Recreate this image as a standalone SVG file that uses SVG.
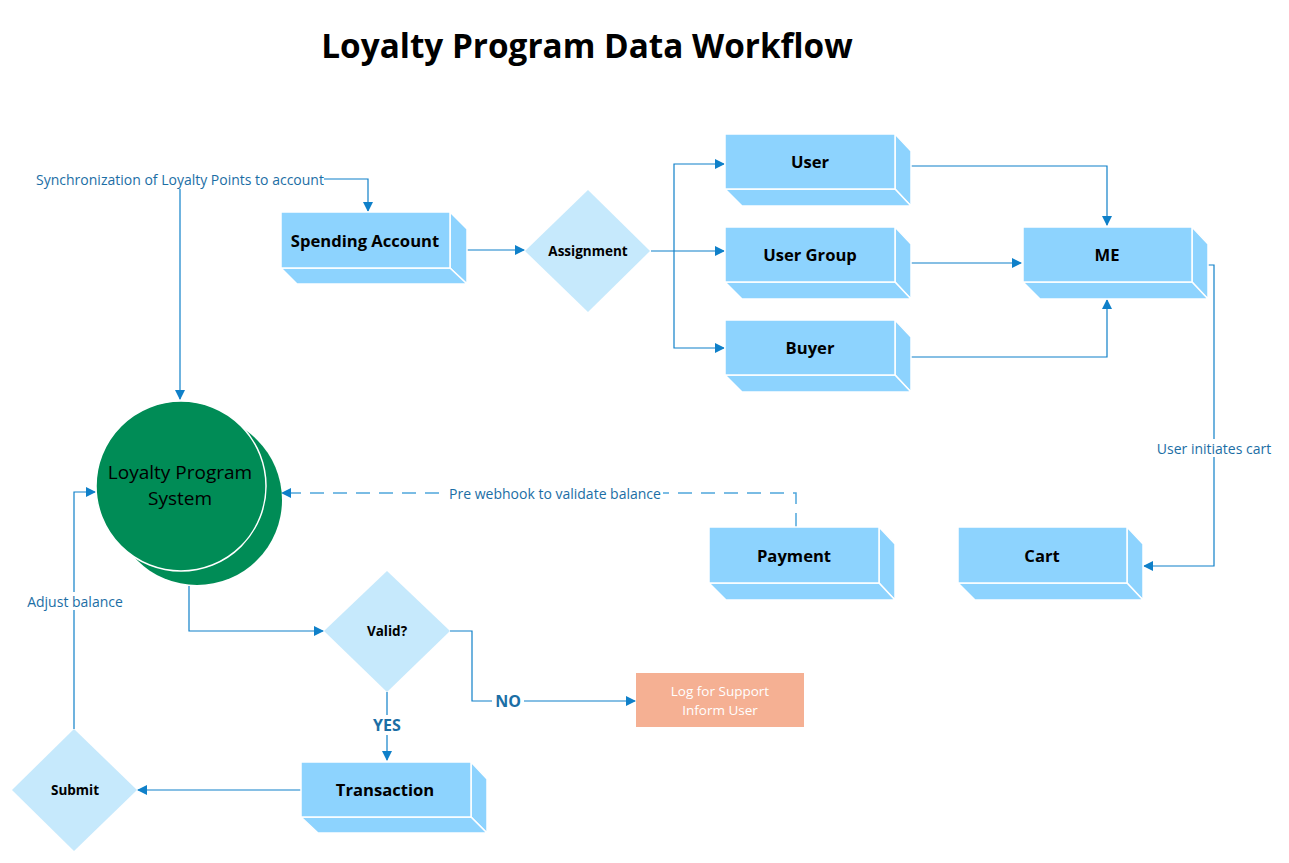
<svg xmlns="http://www.w3.org/2000/svg" width="1289" height="863" viewBox="0 0 1289 863">
<defs>
<marker id="arr" viewBox="0 0 10 10" refX="9" refY="5" markerWidth="10" markerHeight="10" markerUnits="userSpaceOnUse" orient="auto">
<path d="M0,0 L10,5 L0,10 z" fill="#0F80C9"/>
</marker>
<style>
.face{fill:#8DD3FE;stroke:#FFFFFF;stroke-width:1.5}
.dia{fill:#C6E9FC}
.conn{fill:none;stroke:#0F80C9;stroke-width:1.2}
.dash{fill:none;stroke:#4FA6DC;stroke-width:1.5;stroke-dasharray:14,9}
.bl{font-family:"Open Sans","Liberation Sans",sans-serif;font-weight:bold;font-size:16.6px;fill:#000;text-anchor:middle;dominant-baseline:central}
.dl{font-family:"Open Sans","Liberation Sans",sans-serif;font-weight:bold;font-size:13.5px;fill:#000;text-anchor:middle;dominant-baseline:central}
.cl{font-family:"Open Sans","Liberation Sans",sans-serif;font-size:14px;fill:#1B6EA5;text-anchor:middle;dominant-baseline:central}
.yn{font-family:"Open Sans","Liberation Sans",sans-serif;font-weight:bold;font-size:16px;fill:#1B6EA5;text-anchor:middle;dominant-baseline:central}
</style>
</defs>
<rect width="1289" height="863" fill="#FFFFFF"/>
<text x="587" y="45" font-family="Open Sans, Liberation Sans, sans-serif" font-weight="bold" font-size="33.3" text-anchor="middle" dominant-baseline="central" fill="#000">Loyalty Program Data Workflow</text>

<g id="connectors">
<path class="conn" d="M323,179 H368 V211" marker-end="url(#arr)"/>
<path class="conn" d="M180,189 V399" marker-end="url(#arr)"/>
<path class="conn" d="M467,250 H524" marker-end="url(#arr)"/>
<path class="conn" d="M651,251 H724" marker-end="url(#arr)"/>
<path class="conn" d="M674,251 V164 H724" marker-end="url(#arr)"/>
<path class="conn" d="M674,251 V348 H724" marker-end="url(#arr)"/>
<path class="conn" d="M911,166 H1107 V225" marker-end="url(#arr)"/>
<path class="conn" d="M911,263 H1021" marker-end="url(#arr)"/>
<path class="conn" d="M911,357 H1107 V300" marker-end="url(#arr)"/>
<path class="conn" d="M1208,265 H1214 V566 H1144" marker-end="url(#arr)"/>
<path class="dash" d="M796,527 V493 H282" marker-end="url(#arr)"/>
<path class="conn" d="M189,586 V631 H323" marker-end="url(#arr)"/>
<path class="conn" d="M450,631 H472 V701 H635" marker-end="url(#arr)"/>
<path class="conn" d="M387,692 V760" marker-end="url(#arr)"/>
<path class="conn" d="M301,790 H138" marker-end="url(#arr)"/>
<path class="conn" d="M74,729 V492 H95" marker-end="url(#arr)"/>
<rect x="33" y="170" width="291" height="18" fill="#FFFFFF"/>
<text class="cl" x="180" y="179">Synchronization of Loyalty Points to account</text>
<rect x="1154" y="439" width="120" height="18" fill="#FFFFFF"/>
<text class="cl" x="1214" y="448">User initiates cart</text>
<rect x="447" y="484" width="216" height="18" fill="#FFFFFF"/>
<text class="cl" x="555" y="493">Pre webhook to validate balance</text>
<rect x="24" y="592" width="102" height="18" fill="#FFFFFF"/>
<text class="cl" x="75" y="601">Adjust balance</text>
<rect x="492" y="691" width="32" height="20" fill="#FFFFFF"/>
<text class="yn" x="508" y="701">NO</text>
<rect x="370" y="715" width="34" height="20" fill="#FFFFFF"/>
<text class="yn" x="387" y="725">YES</text>
</g>

<g id="spending-account">
<polygon class="face" points="450,212 467,229 467,284 450,268"/>
<polygon class="face" points="281,268 297,284 467,284 450,268"/>
<rect class="face" x="281" y="212" width="169" height="56"/>
<text class="bl" x="365" y="240">Spending Account</text>
</g>
<g id="user">
<polygon class="face" points="895,134 911,151 911,206 895,189"/>
<polygon class="face" points="725,189 742,206 911,206 895,189"/>
<rect class="face" x="725" y="134" width="170" height="55"/>
<text class="bl" x="810" y="161">User</text>
</g>
<g id="user-group">
<polygon class="face" points="895,227 911,244 911,299 895,282"/>
<polygon class="face" points="725,282 742,299 911,299 895,282"/>
<rect class="face" x="725" y="227" width="170" height="55"/>
<text class="bl" x="810" y="254">User Group</text>
</g>
<g id="buyer">
<polygon class="face" points="895,320 911,337 911,392 895,375"/>
<polygon class="face" points="725,375 742,392 911,392 895,375"/>
<rect class="face" x="725" y="320" width="170" height="55"/>
<text class="bl" x="810" y="347">Buyer</text>
</g>
<g id="me">
<polygon class="face" points="1192,227 1208,244 1208,299 1192,282"/>
<polygon class="face" points="1023,282 1040,299 1208,299 1192,282"/>
<rect class="face" x="1023" y="227" width="169" height="55"/>
<text class="bl" x="1107" y="254">ME</text>
</g>
<g id="payment">
<polygon class="face" points="879,527 895,544 895,600 879,583"/>
<polygon class="face" points="709,583 726,600 895,600 879,583"/>
<rect class="face" x="709" y="527" width="170" height="56"/>
<text class="bl" x="794" y="555">Payment</text>
</g>
<g id="cart">
<polygon class="face" points="1127,527 1143,544 1143,600 1127,583"/>
<polygon class="face" points="958,583 975,600 1143,600 1127,583"/>
<rect class="face" x="958" y="527" width="169" height="56"/>
<text class="bl" x="1042" y="555">Cart</text>
</g>
<g id="transaction">
<polygon class="face" points="471,762 487,779 487,833 471,817"/>
<polygon class="face" points="301,817 318,833 487,833 471,817"/>
<rect class="face" x="301" y="762" width="170" height="55"/>
<text class="bl" x="385" y="789">Transaction</text>
</g>
<g id="assignment">
<polygon class="dia" points="588,190 650,251 588,312 525,251"/>
<text class="dl" x="588" y="251">Assignment</text>
</g>
<g id="valid">
<polygon class="dia" points="387,571 450,631 387,692 324,631"/>
<text class="dl" x="387" y="631">Valid?</text>
</g>
<g id="submit">
<polygon class="dia" points="74,729 137,790 74,851 12,790"/>
<text class="dl" x="75" y="790">Submit</text>
</g>
<g id="loyalty-program-system">
<circle cx="197" cy="500" r="85" fill="#008C56"/>
<circle cx="181" cy="486" r="85" fill="#008C56" stroke="#FFFFFF" stroke-width="1.5"/>
<text x="180" y="472" font-family="Open Sans, Liberation Sans, sans-serif" font-size="19" text-anchor="middle" dominant-baseline="central" fill="#000">Loyalty Program</text>
<text x="180" y="498" font-family="Open Sans, Liberation Sans, sans-serif" font-size="19" text-anchor="middle" dominant-baseline="central" fill="#000">System</text>
</g>
<g id="log-for-support">
<rect x="636" y="673" width="168" height="54" fill="#F5B093"/>
<text x="720" y="691" font-family="Open Sans, Liberation Sans, sans-serif" font-size="13.5" text-anchor="middle" dominant-baseline="central" fill="#FFFFFF">Log for Support</text>
<text x="720" y="710" font-family="Open Sans, Liberation Sans, sans-serif" font-size="13.5" text-anchor="middle" dominant-baseline="central" fill="#FFFFFF">Inform User</text>
</g>
</svg>
